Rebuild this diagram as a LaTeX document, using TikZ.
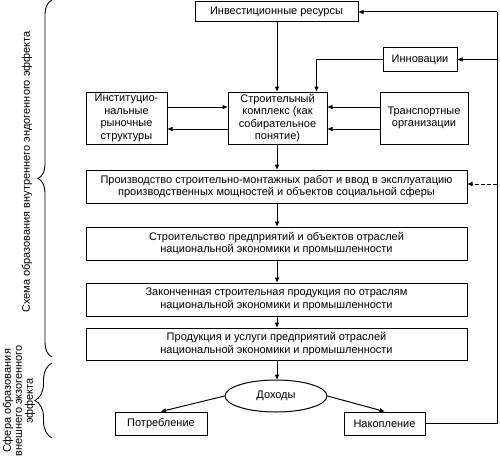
\documentclass[tikz,border=0pt]{standalone}
\usepackage{fontspec}
\setmainfont{Liberation Sans}
\usetikzlibrary{arrows.meta,shapes.geometric,decorations.pathreplacing,calc}
\begin{document}
\begin{tikzpicture}[x=1pt,y=-1pt,
  every node/.style={font=\fontsize{11}{12.5}\selectfont},
  box/.style={draw,line width=1pt,inner sep=1pt,align=center},
  conn/.style={line width=1pt,-{Triangle[length=5pt,width=4pt]}},
  plain/.style={line width=1pt},
  brc/.style={line width=0.9pt,decorate,decoration={brace,amplitude=#1}}]
\useasboundingbox (0,0) rectangle (500,460);
\node[box,minimum width=163pt,minimum height=20pt] (inv) at (276.5,12) {Инвестиционные ресурсы};
\node[box,minimum width=74pt,minimum height=23pt] (inn) at (420,59.5) {Инновации};
\node[box,minimum width=81pt,minimum height=52pt] (inst) at (126.5,118) {Институцио-\\нальные\\рыночные\\структуры};
\node[box,minimum width=99pt,minimum height=52pt] (cx) at (277.5,118) {Строительный\\комплекс (как\\собирательное\\понятие)};
\node[box,minimum width=88pt,minimum height=52pt] (tr) at (424,118) {Транспортные\\организации};
\node[box,minimum width=381pt,minimum height=33pt] (prod) at (276.5,186.5) {Производство строительно-монтажных работ и ввод в эксплуатацию\\производственных мощностей и объектов социальной сферы};
\node[box,minimum width=381pt,minimum height=33pt] (b2) at (276.5,243.5) {Строительство предприятий и объектов отраслей\\национальной экономики и промышленности};
\node[box,minimum width=381pt,minimum height=33pt] (b3) at (276.5,299.5) {Законченная строительная продукция по отраслям\\национальной экономики и промышленности};
\node[box,minimum width=381pt,minimum height=32pt] (b4) at (276.5,344) {Продукция и услуги предприятий отраслей\\национальной экономики и промышленности};
\node[box,ellipse,inner sep=0pt,minimum width=102pt,minimum height=32pt] (inc) at (276,396) {Доходы};
\node[box,minimum width=92pt,minimum height=23pt] (potr) at (161,423.5) {Потребление};
\node[box,minimum width=81pt,minimum height=23pt] (nak) at (384.5,423.5) {Накопление};
% coordinates
\coordinate (rb) at (497,423.5);
\coordinate (rt) at (497,12);
\coordinate (ri) at (497,59.5);
\coordinate (rp) at (497,184);
% connectors
\draw[conn] (inv.south -| 277,0) -- (cx.north -| 277,0);
\draw[conn] (inn.west) -| ([xshift=-11pt]cx.north east);
\draw[conn] ([yshift=-11pt]cx.west) -- ([yshift=-11pt]inst.east);
\draw[conn] ([yshift=11pt]inst.east) -- ([yshift=11pt]cx.west);
\draw[conn] ([yshift=-11pt]tr.west) -- ([yshift=-11pt]cx.east);
\draw[conn] ([yshift=11pt]tr.west) -- ([yshift=11pt]cx.east);
\draw[conn] (cx.south -| 277,0) -- (prod.north -| 277,0);
\draw[conn] (prod.south -| 277,0) -- (b2.north -| 277,0);
\draw[conn] (b2.south -| 277,0) -- (b3.north -| 277,0);
\draw[conn] (b3.south -| 277,0) -- (b4.north -| 277,0);
\draw[conn] (b4.south -| 277,0) -- (inc.north -| 277,0);
\draw[conn] (inc.180) -- (potr.north);
\draw[conn] (inc.0) -- (nak.north);
\draw[plain] (nak.east) -- (rb) -- (rt);
\draw[conn] (rt) -- (inv.east);
\draw[conn] (ri) -- (inn.east);
\draw[conn,dash pattern=on 4pt off 2pt] (rp) -- (prod.east |- rp);
% braces
\draw[brc=14pt] (52,357) -- (52,0);
\draw[brc=17pt] (52,438) -- (52,363);
\node[rotate=90] (t1) at (27,172) {Схема образования внутреннего эндогенного эффекта};
\node[rotate=90,align=center,font=\fontsize{11}{11}\selectfont] (t2) at (19,401) {Сфера образования\\внешнего экзогенного\\эффекта};
\end{tikzpicture}
\end{document}
